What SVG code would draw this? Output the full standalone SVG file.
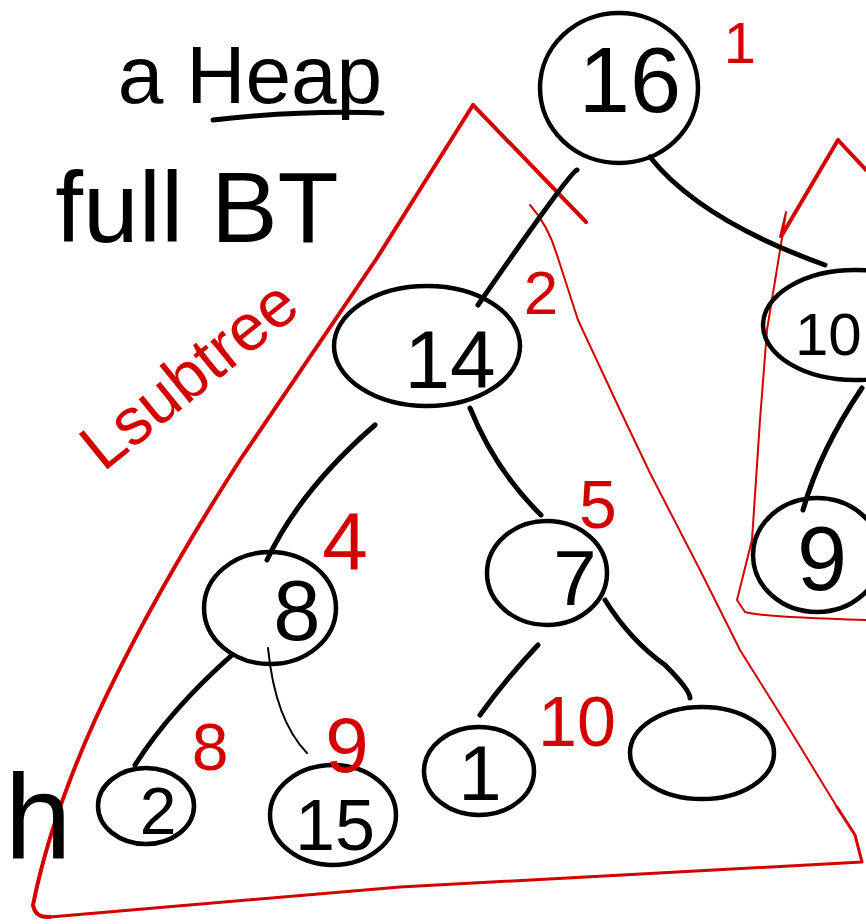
<svg xmlns="http://www.w3.org/2000/svg" width="866" height="924" viewBox="0 0 866 924">
<style>
.n{fill:none;stroke:#000;stroke-width:4.5}
.e{fill:none;stroke:#000;stroke-width:5;stroke-linecap:round}
.et{fill:none;stroke:#000;stroke-width:2;stroke-linecap:round}
.r{fill:none;stroke:#d40000;stroke-width:4;stroke-linecap:round;stroke-linejoin:round}
.rm{fill:none;stroke:#d40000;stroke-width:3;stroke-linecap:round;stroke-linejoin:round}
.rt{fill:none;stroke:#d40000;stroke-width:2;stroke-linecap:round;stroke-linejoin:round}
.t{font-family:"Liberation Sans",Arial,sans-serif;fill:#000;text-anchor:middle}
.rl{font-family:"Liberation Sans",Arial,sans-serif;fill:#d40000;text-anchor:middle}
</style>
<rect width="866" height="924" fill="#fff"/>

<g id="title">
<text class="t" x="250" y="103" font-size="82">a Heap</text>
<path class="e" d="M213 120 Q300 110 382 113"/>
<text class="t" x="197" y="242" font-size="100">full BT</text>
</g>

<g id="subtrees">
<path class="r" d="M473 105 L586 222"/>
<path class="r" d="M473 105 L377 258 L240 460 Q150 600 95 720 Q50 820 33 905 Q35 918 50 917"/>
<path class="rm" d="M50 917 L400 887 L862 862 L855 835 L837 807"/>
<path class="rt" d="M530 205 Q548 225 557 255 L578 320 L620 410 L650 473 L700 570 L740 650 L790 730 L837 807"/>
<path class="r" d="M838 140 L866 170"/>
<path class="r" d="M838 140 L782 235"/>
<path class="rt" d="M780 237 L786 212 L783 232 L767 330 L760 420 L752 540 L737 600 L745 612 Q760 617 866 620"/>
<text class="rl" transform="translate(203 392) rotate(-39)" font-size="66">Lsubtree</text>
</g>

<g id="connectors">
<path class="e" d="M577 170 Q570 172 478 305"/>
<path class="e" d="M650 157 Q700 220 825 265"/>
<path class="e" d="M375 425 Q300 490 267 560"/>
<path class="e" d="M470 408 Q495 470 541 515"/>
<path class="e" d="M862 388 Q820 450 803 510"/>
<path class="e" d="M232 655 Q170 710 135 765"/>
<path class="et" d="M268 648 Q275 720 307 753"/>
<path class="e" d="M538 645 Q505 680 480 715"/>
<path class="e" d="M605 600 Q630 640 665 665 Q690 690 690 698"/>
</g>

<g id="node16"><ellipse class="n" cx="619" cy="88" rx="79" ry="75"/><text class="t" x="630" y="112" font-size="92">16</text></g>
<g id="node14"><ellipse class="n" cx="427" cy="346" rx="93" ry="60"/><text class="t" x="450" y="388" font-size="82">14</text></g>
<g id="node10"><ellipse class="n" cx="855" cy="325" rx="92" ry="55"/><text class="t" x="795" y="355" font-size="60" style="text-anchor:start">10</text></g>
<g id="node9"><ellipse class="n" cx="817" cy="555" rx="64" ry="57"/><text class="t" x="822" y="590" font-size="90">9</text></g>
<g id="node8"><ellipse class="n" cx="270" cy="608" rx="66" ry="56"/><text class="t" x="297" y="640" font-size="85">8</text></g>
<g id="node7"><ellipse class="n" cx="547" cy="573" rx="60" ry="52"/><text class="t" x="575" y="605" font-size="78">7</text></g>
<g id="node2"><ellipse class="n" cx="146" cy="806" rx="48" ry="38"/><text class="t" x="158" y="834" font-size="66">2</text></g>
<g id="node15"><ellipse class="n" cx="333" cy="815" rx="63" ry="50"/><text class="t" x="335" y="850" font-size="72">15</text></g>
<g id="node1"><ellipse class="n" cx="479" cy="771" rx="55" ry="44"/><text class="t" x="480" y="800" font-size="78">1</text></g>
<g id="nodeEmpty"><ellipse class="n" cx="702" cy="753" rx="72" ry="46"/></g>

<g id="indices">
<text class="rl" x="740" y="63" font-size="58">1</text>
<text class="rl" x="541" y="314" font-size="62">2</text>
<text class="rl" x="345" y="570" font-size="82">4</text>
<text class="rl" x="598" y="528" font-size="68">5</text>
<text class="rl" x="210" y="770" font-size="66">8</text>
<text class="rl" x="347" y="772" font-size="78">9</text>
<text class="rl" x="577" y="746" font-size="70">10</text>
</g>

<g id="height"><text class="t" x="38" y="858" font-size="120">h</text></g>
</svg>
